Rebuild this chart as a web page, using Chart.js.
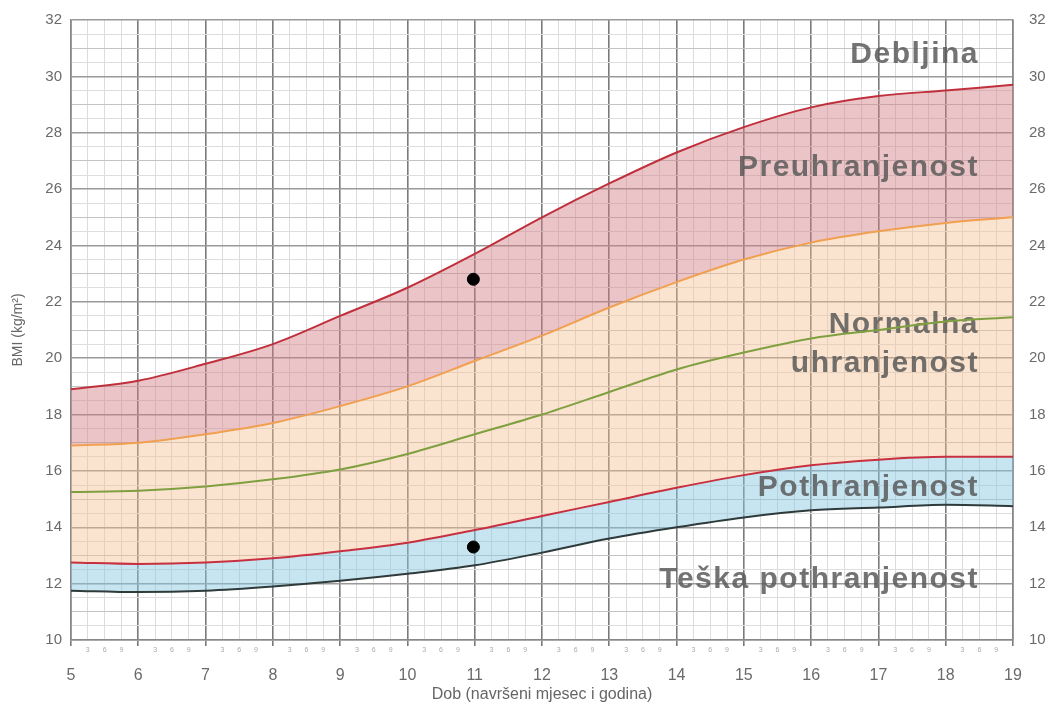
<!DOCTYPE html>
<html>
<head>
<meta charset="utf-8">
<script src="https://cdn.jsdelivr.net/npm/chart.js@4"></script>
<style>
  body { margin: 0; background: #fff; }
  #wrap { width: 1051px; height: 704px; }
</style>
</head>
<body>
<div id="wrap"><canvas id="bmiChart" width="1051" height="704"></canvas></div>
<script>
"use strict";

const ctx = document.getElementById('bmiChart');

// age in years
const ages = [5, 6, 7, 8, 9, 10, 11, 12, 13, 14, 15, 16, 17, 18, 19];
// BMI curves
const obeseLine = [18.9, 19.2, 19.8, 20.5, 21.5, 22.5, 23.7, 25.0, 26.2, 27.3, 28.2, 28.9, 29.3, 29.5, 29.7];
const overLine = [16.9, 17.0, 17.3, 17.7, 18.3, 19.0, 19.9, 20.8, 21.8, 22.7, 23.5, 24.1, 24.5, 24.8, 25.0];
const medianLine = [15.25, 15.3, 15.45, 15.7, 16.05, 16.6, 17.3, 18.0, 18.8, 19.6, 20.2, 20.7, 21.0, 21.3, 21.45];
const underLine = [12.75, 12.7, 12.75, 12.9, 13.15, 13.45, 13.9, 14.4, 14.9, 15.4, 15.85, 16.2, 16.4, 16.5, 16.5];
const severeLine = [11.75, 11.7, 11.75, 11.9, 12.1, 12.35, 12.65, 13.1, 13.6, 14.0, 14.35, 14.6, 14.7, 14.8, 14.75];
// measured points
const dotAges = [10.98, 10.98];
const dotBmi = [22.8, 13.3];

const zoneLabels = [
    { text: 'Debljina', y: 30.75 },
    { text: 'Preuhranjenost', y: 26.75 },
    { text: 'Normalna', y: 21.2 },
    { text: 'uhranjenost', y: 19.8 },
    { text: 'Pothranjenost', y: 15.4 },
    { text: 'Teška pothranjenost', y: 12.15 }
];
const monthNames = { 0.25: '3', 0.5: '6', 0.75: '9' };

function pts (vals) {
    return ages.map((a, i) => ({ x: a, y: vals[i] }));
}

function curve (vals, color, fill, bg) {
    return {
        data: pts(vals),
        borderColor: color,
        borderWidth: 2,
        backgroundColor: bg || 'transparent',
        fill: fill,
        pointRadius: 0,
        cubicInterpolationMode: 'monotone'
    };
}

const zoneText = {
    id: 'zoneText',
    beforeDatasetsDraw (chart) {
        const c = chart.ctx;
        const y = chart.scales.y;
        c.save();
        c.font = 'bold 30px "Liberation Sans", Arial, sans-serif';
        c.letterSpacing = '1.5px';
        c.fillStyle = 'rgba(90, 90, 90, 0.85)';
        c.textAlign = 'right';
        c.textBaseline = 'middle';
        zoneLabels.forEach(l => c.fillText(l.text, 979, y.getPixelForValue(l.y)));
        c.restore();
    }
};

function frac (v) {
    return Math.round((v - Math.floor(v)) * 100) / 100;
}

new Chart(ctx, {
    type: 'line',
    data: {
        datasets: [
            curve(obeseLine, '#c0303c', '+1', 'rgba(210, 125, 130, 0.45)'),
            curve(overLine, '#f0a050', { target: 3 }, 'rgba(246, 190, 140, 0.42)'),
            curve(medianLine, '#7fa040', false),
            curve(underLine, '#c83040', '+1', 'rgba(135, 198, 225, 0.47)'),
            curve(severeLine, '#2f3a3a', false),
            {
                type: 'scatter',
                data: dotAges.map((a, i) => ({ x: a, y: dotBmi[i] })),
                backgroundColor: '#000',
                borderColor: '#000',
                pointRadius: 6
            }
        ]
    },
    options: {
        responsive: false,
        animation: false,
        layout: { padding: { top: 20, right: 0, left: 10, bottom: 0 } },
        plugins: {
            legend: { display: false },
            tooltip: { enabled: false },
            filler: { drawTime: 'beforeDatasetsDraw' }
        },
        scales: {
            x: {
                type: 'linear',
                position: 'bottom',
                min: 5,
                max: 19,
                afterFit: s => { s.height = 18; },
                border: { color: '#888', width: 1.5 },
                grid: {
                    color: c => frac(c.tick.value) === 0 ? '#7a7a7a' : '#dcdcdc',
                    lineWidth: c => frac(c.tick.value) === 0 ? 1.6 : 1,
                    tickLength: 6,
                    tickColor: c => frac(c.tick.value) === 0 ? '#7a7a7a' : 'rgba(0,0,0,0)'
                },
                ticks: {
                    stepSize: 0.25,
                    autoSkip: false,
                    maxRotation: 0,
                    padding: 0,
                    color: '#aaa',
                    font: { size: 7 },
                    callback: v => monthNames[frac(v)] || ''
                }
            },
            x2: {
                type: 'linear',
                position: 'bottom',
                min: 5,
                max: 19,
                afterFit: s => { s.height = 46; },
                border: { display: false },
                grid: { display: false },
                ticks: { stepSize: 1, padding: 0, color: '#6a6a6a', font: { size: 16 } },
                title: {
                    display: true,
                    text: 'Dob (navršeni mjesec i godina)',
                    color: '#666',
                    font: { size: 16 },
                    padding: { top: 0, bottom: 0 }
                }
            },
            y: {
                min: 10,
                max: 32,
                afterFit: s => { s.width = 61; },
                border: { color: '#888', width: 1.5 },
                grid: {
                    color: c => c.tick.value % 2 === 0 ? '#9a9a9a' : (c.tick.value % 1 === 0 ? '#c4c4c4' : '#dedede'),
                    lineWidth: c => c.tick.value % 2 === 0 ? 1.4 : 1,
                    tickLength: 5,
                    tickColor: 'rgba(0,0,0,0)'
                },
                ticks: {
                    stepSize: 0.5,
                    autoSkip: false,
                    padding: 4,
                    color: '#6a6a6a',
                    font: { size: 15 },
                    callback: v => v % 2 === 0 ? v : ''
                },
                title: {
                    display: true,
                    text: 'BMI (kg/m²)',
                    color: '#666',
                    font: { size: 14 },
                    padding: { top: 0, bottom: 2 }
                }
            },
            y2: {
                position: 'right',
                min: 10,
                max: 32,
                afterFit: s => { s.width = 38; },
                border: { color: '#888', width: 1.5 },
                grid: { display: false },
                ticks: {
                    stepSize: 2,
                    padding: 8,
                    color: '#6a6a6a',
                    font: { size: 15 }
                }
            }
        }
    },
    plugins: [zoneText]
});
</script>
</body>
</html>
